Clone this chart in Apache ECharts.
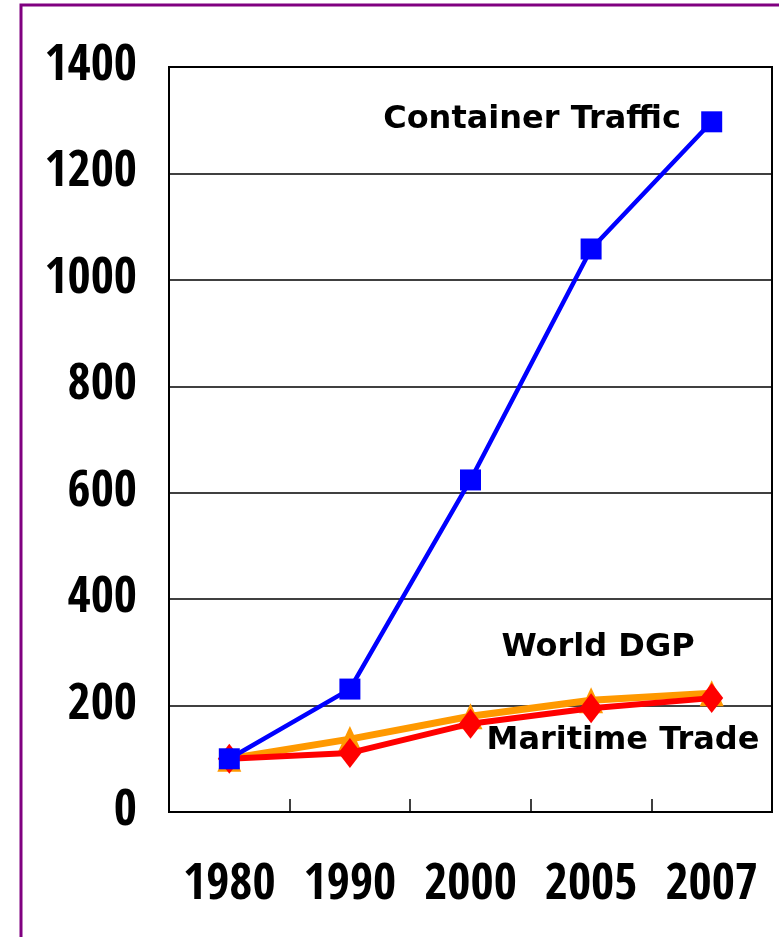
<!DOCTYPE html>
<html>
<head>
<meta charset="utf-8">
<script src="https://cdn.jsdelivr.net/npm/echarts@6/dist/echarts.min.js"></script>
<style>
html,body{margin:0;padding:0;background:#fff;}
#chart{width:779px;height:937px;}
</style>
</head>
<body>
<div id="chart"></div>
<script>
var categories = ['1980', '1990', '2000', '2005', '2007'];
var containerTraffic = [100, 231, 624, 1058, 1297];
var worldGDP = [100, 137, 180, 210, 223];
var maritimeTrade = [100, 111, 166, 195, 214];

var numFont = "'Open Sans Condensed', 'Roboto Condensed', sans-serif";
var txtFont = "'DejaVu Sans', Verdana, sans-serif";

var chart = echarts.init(document.getElementById('chart'));
chart.setOption({
  animation: false,
  backgroundColor: '#fff',
  grid: {
    left: 169, right: 7, top: 67, bottom: 125,
    containLabel: false, outerBoundsMode: 'none',
    show: true, borderColor: '#000', borderWidth: 2, backgroundColor: 'transparent'
  },
  xAxis: {
    type: 'category',
    data: categories,
    boundaryGap: true,
    axisLine: { show: true, lineStyle: { color: '#000', width: 2 } },
    axisTick: { show: true, inside: true, length: 13, alignWithLabel: false, lineStyle: { color: '#000', width: 1.5 } },
    axisLabel: { interval: 0, hideOverlap: false, margin: 49, fontSize: 50, fontFamily: numFont, fontWeight: 'bold', color: '#000' },
    splitLine: { show: false }
  },
  yAxis: {
    type: 'value',
    min: 0, max: 1400, interval: 200,
    axisLine: { show: true, lineStyle: { color: '#000', width: 2 } },
    axisTick: { show: false },
    axisLabel: {
      margin: 32, fontSize: 50, fontFamily: numFont, fontWeight: 'bold', color: '#000',
      hideOverlap: false, showMinLabel: true, showMaxLabel: true,
      verticalAlign: 'middle', padding: [12, 0, 0, 0],
      formatter: function (v) { return String(v); }
    },
    splitLine: { show: true, lineStyle: { color: '#000', width: 1.5 } }
  },
  graphic: [
    { type: 'rect', shape: { x: 21, y: 5, width: 900, height: 1100 }, style: { fill: 'none', stroke: '#800080', lineWidth: 3 }, z: 100 },
    { type: 'text', x: 681, y: 120, style: { text: 'Container Traffic', font: 'bold 32px ' + txtFont, fill: '#000', textAlign: 'right', textVerticalAlign: 'middle' }, z: 100 },
    { type: 'text', x: 598, y: 648, style: { text: 'World DGP', font: 'bold 32px ' + txtFont, fill: '#000', textAlign: 'center', textVerticalAlign: 'middle' }, z: 100 },
    { type: 'text', x: 623, y: 741, style: { text: 'Maritime Trade', font: 'bold 32px ' + txtFont, fill: '#000', textAlign: 'center', textVerticalAlign: 'middle' }, z: 100 }
  ],
  series: [
    {
      name: 'World GDP', type: 'line', data: worldGDP,
      symbol: 'triangle', symbolSize: [24, 26],
      lineStyle: { color: '#FF9900', width: 7 },
      itemStyle: { color: '#FF9900' }, z: 2
    },
    {
      name: 'Maritime Trade', type: 'line', data: maritimeTrade,
      symbol: 'diamond', symbolSize: [23, 30],
      lineStyle: { color: '#FF0000', width: 6 },
      itemStyle: { color: '#FF0000' }, z: 3
    },
    {
      name: 'Container Traffic', type: 'line', data: containerTraffic,
      symbol: 'rect', symbolSize: 21,
      lineStyle: { color: '#0000FF', width: 4.5 },
      itemStyle: { color: '#0000FF' }, z: 4
    }
  ]
});
</script>
</body>
</html>
